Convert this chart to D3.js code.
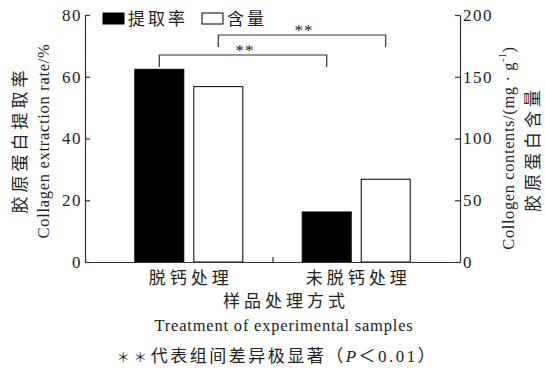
<!DOCTYPE html>
<html>
<head>
<meta charset="utf-8">
<script src="https://cdn.jsdelivr.net/npm/d3@7"></script>
<style>
  html, body { margin: 0; padding: 0; background: #fff; }
  svg { display: block; }
</style>
</head>
<body>
<svg id="chart" width="545" height="371"></svg>
<script>
// data
const categories = ["脱钙处理", "未脱钙处理"];
const seriesNames = ["提取率", "含量"];
const extractionRate = [62.4, 16.2];   // left axis, %
const collagenContent = [142, 67];     // right axis, mg/g
const leftTicks = [0, 20, 40, 60, 80];
const rightTicks = [0, 50, 100, 150, 200];

const svg = d3.select("#chart");
const ink = "#222";
const axisInk = "#333";
const EN = "Liberation Serif, DejaVu Serif, serif";
const ZH = "Noto Sans CJK SC, sans-serif";

const plotLeft = 85, plotRight = 460, plotTop = 15, plotBottom = 262;

const yL = d3.scaleLinear().domain([0, 80]).range([plotBottom, plotTop]);
const yR = d3.scaleLinear().domain([0, 200]).range([plotBottom, plotTop]);
const x = d3.scalePoint().domain(categories).range([plotLeft, plotRight]).padding(0.62);
const xs = d3.scaleBand().domain(seriesNames).range([-54, 54]).paddingInner(0.17);

// bars
const rows = categories.map((c, i) => ({ cat: c, rate: extractionRate[i], content: collagenContent[i] }));

svg.append("g").selectAll("rect")
  .data(rows)
  .join("rect")
    .attr("x", d => x(d.cat) + xs("提取率"))
    .attr("y", d => yL(d.rate))
    .attr("width", xs.bandwidth())
    .attr("height", d => plotBottom - yL(d.rate))
    .attr("fill", "#000")
    .attr("stroke", "#000");

svg.append("g").selectAll("rect")
  .data(rows)
  .join("rect")
    .attr("x", d => x(d.cat) + xs("含量"))
    .attr("y", d => yR(d.content))
    .attr("width", xs.bandwidth())
    .attr("height", d => plotBottom - yR(d.content))
    .attr("fill", "#fff")
    .attr("stroke", "#000")
    .attr("stroke-width", 1);

// axes
function styleAxis(g) {
  g.attr("font-family", EN).attr("font-size", 17);
  g.selectAll("path, line").attr("stroke", axisInk).attr("stroke-width", 1.2);
  g.selectAll("text")
    .attr("letter-spacing", 1.5)
    .attr("fill", ink);
}

svg.append("g")
  .attr("transform", `translate(${plotLeft},0)`)
  .call(d3.axisLeft(yL).tickValues(leftTicks).tickSizeInner(-5).tickSizeOuter(0).tickPadding(3))
  .call(styleAxis);

svg.append("g")
  .attr("transform", `translate(${plotRight},0)`)
  .call(d3.axisRight(yR).tickValues(rightTicks).tickSizeInner(-5).tickSizeOuter(0).tickPadding(3))
  .call(styleAxis);

// x axis: plain baseline with a single divider tick between groups
const xLine = d3.scaleLinear().domain([0, 1]).range([plotLeft, plotRight]);
svg.append("g")
  .attr("transform", `translate(0,${plotBottom})`)
  .call(d3.axisBottom(xLine).tickValues([0.5]).tickSizeInner(-5).tickSizeOuter(0).tickFormat(""))
  .call(styleAxis);

// category labels
svg.append("g").selectAll("text")
  .data(categories)
  .join("text")
    .attr("font-family", ZH)
    .attr("x", d => x(d) + 2)
    .attr("y", 284)
    .attr("text-anchor", "middle")
    .attr("font-size", 17)
    .attr("letter-spacing", 4)
    .attr("fill", ink)
    .text(d => d);

// x titles
svg.append("text").attr("font-family", ZH)
  .attr("x", 286).attr("y", 307)
  .attr("text-anchor", "middle").attr("font-size", 17).attr("letter-spacing", 4)
  .attr("fill", ink).text("样品处理方式");

svg.append("text").attr("font-family", EN)
  .attr("x", 284).attr("y", 331)
  .attr("text-anchor", "middle").attr("font-size", 16.5).attr("letter-spacing", 0.8)
  .attr("fill", ink).text("Treatment of experimental samples");

// footnote
const note = svg.append("text").attr("font-family", ZH)
  .attr("x", 277).attr("y", 362)
  .attr("text-anchor", "middle").attr("font-size", 17).attr("letter-spacing", 2.5)
  .attr("fill", ink);
note.append("tspan").attr("font-size", 13).attr("letter-spacing", 4).text("＊＊");
note.append("tspan").text("代表组间差异极显著（");
note.append("tspan").attr("font-family", EN).attr("font-style", "italic").text("P");
note.append("tspan").text("＜");
note.append("tspan").attr("font-family", EN).text("0.01");
note.append("tspan").text("）");

// y titles
function vtitle(cx, cy, family, size, spacing, txt) {
  return svg.append("text")
    .attr("font-family", family)
    .attr("transform", `translate(${cx},${cy}) rotate(-90)`)
    .attr("text-anchor", "middle")
    .attr("dominant-baseline", "central")
    .attr("font-size", size)
    .attr("letter-spacing", spacing)
    .attr("fill", ink)
    .text(txt);
}
vtitle(18, 140, ZH, 17, 4, "胶原蛋白提取率");
vtitle(43, 141, EN, 16.5, 0.7, "Collagen extraction rate/%");
vtitle(531, 149, ZH, 17, 4, "胶原蛋白含量");
const rt = vtitle(508, 148, EN, 16.5, 0.6, "Collogen contents/(mg · g");
rt.append("tspan").attr("dy", -6).attr("font-size", 10).text("-1");
rt.append("tspan").attr("dy", 6).text(")");

// significance brackets
const brackets = [
  { from: x(categories[0]) + xs("提取率") + xs.bandwidth() / 2,
    to: x(categories[1]) + xs("提取率") + xs.bandwidth() / 2, y: 55, leg: 12 },
  { from: x(categories[0]) + xs("含量") + xs.bandwidth() / 2,
    to: x(categories[1]) + xs("含量") + xs.bandwidth() / 2, y: 35, leg: 12 }
];
const bg = svg.append("g");
brackets.forEach(b => {
  bg.append("path")
    .attr("d", `M${b.from},${b.y + b.leg}V${b.y}H${b.to}V${b.y + b.leg}`)
    .attr("fill", "none")
    .attr("stroke", axisInk)
    .attr("stroke-width", 1.2);
  bg.append("text")
    .attr("font-family", EN)
    .attr("x", (b.from + b.to) / 2 + 2)
    .attr("y", b.y + 1)
    .attr("text-anchor", "middle")
    .attr("font-size", 17)
    .attr("letter-spacing", 1)
    .attr("fill", ink)
    .text("**");
});

// legend
const legend = svg.append("g");
const legendItems = [
  { name: seriesNames[0], fill: "#000", x: 103 },
  { name: seriesNames[1], fill: "#fff", x: 202 }
];
legendItems.forEach(d => {
  legend.append("rect")
    .attr("x", d.x).attr("y", 13)
    .attr("width", 21).attr("height", 11)
    .attr("fill", d.fill).attr("stroke", "#000");
  legend.append("text")
    .attr("font-family", ZH)
    .attr("x", d.x + 25).attr("y", 25)
    .attr("font-size", 17).attr("letter-spacing", 3)
    .attr("fill", ink)
    .text(d.name);
});
</script>
</body>
</html>
